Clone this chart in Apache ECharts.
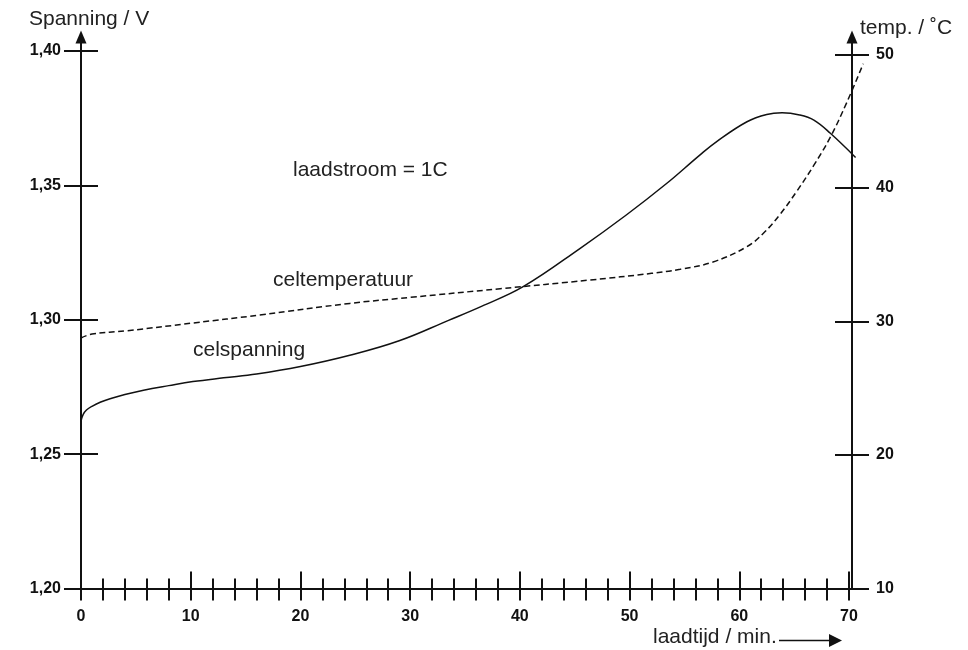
<!DOCTYPE html>
<html>
<head>
<meta charset="utf-8">
<script src="https://cdn.jsdelivr.net/npm/echarts@6/dist/echarts.min.js"></script>
<style>html,body{margin:0;padding:0;background:#fff}#c{width:968px;height:650px}</style>
</head>
<body>
<div id="c"></div>
<script>
// ---- data ----
const voltageTicks = [1.20, 1.25, 1.30, 1.35, 1.40];
const tempTicks = [10, 20, 30, 40, 50];
const timeTicks = [0, 10, 20, 30, 40, 50, 60, 70];
// celspanning: [minutes, volt]
const celspanning = [
  [0, 1.2623], [0.2, 1.2648], [0.5, 1.2664], [1, 1.2678], [1.8, 1.2694], [2.8, 1.2708],
  [4, 1.2722], [5.7, 1.2738], [8, 1.2755], [10.2, 1.2770], [13, 1.2784], [16, 1.2798],
  [20, 1.2826], [24.5, 1.2868], [29, 1.2922], [33.5, 1.2998], [36.5, 1.3050], [40.3, 1.3123],
  [45.5, 1.3266], [49.7, 1.3390], [53.4, 1.3508], [56.4, 1.3613], [58, 1.3665], [60.7, 1.3737],
  [62.5, 1.3764], [63.9, 1.3770], [65.5, 1.3762], [66.8, 1.3743], [68.3, 1.3694], [70.6, 1.3604]
];
// celtemperatuur: [minutes, degC]
const celtemperatuur = [
  [0, 28.76], [1, 29.05], [4.2, 29.3], [10.2, 29.88], [16.3, 30.48], [24.5, 31.35],
  [30, 31.8], [38.2, 32.45], [46.4, 33.1], [52, 33.6], [54.6, 33.9], [57.6, 34.45],
  [60.7, 35.6], [62.2, 36.6], [63.7, 38.0], [65.2, 39.7], [66.8, 41.7], [68.3, 43.8],
  [69.8, 46.4], [71.3, 49.3]
];

const FONT = '"Liberation Sans", Arial, Helvetica, sans-serif';
const INK = '#111';
const lineSty = { color: INK, width: 2 };
const V_MIN = 1.20, V_MAX = 1.403, T_MIN = 10, T_MAX = 50.85, X_MAX = 70, X_MAX_PLOT = 72;

function fmtV(v) { return v.toFixed(2).replace('.', ','); }

const chart = echarts.init(document.getElementById('c'), null, { renderer: 'canvas' });
// px per minute on the visible axis
const pxPerMin = (968 - 81 - 119) / X_MAX;

chart.setOption({
  animation: false,
  backgroundColor: '#fff',
  grid: [
    { left: 81, right: 119, top: 43, bottom: 61.5 },
    // plotting grid, same scale but wider so curves can run past 70 min
    { left: 81, right: 968 - 81 - pxPerMin * X_MAX_PLOT, top: 43, bottom: 61.5 }
  ],
  xAxis: [
    {
      gridIndex: 0, type: 'value', position: 'bottom', min: 0, max: X_MAX, interval: 10,
      axisLine: { show: true, onZero: false, lineStyle: lineSty },
      axisTick: { show: true, inside: false, length: 12, lineStyle: lineSty },
      minorTick: { show: true, splitNumber: 5, length: 12, lineStyle: lineSty },
      axisLabel: { show: true, margin: 20, color: INK, fontFamily: FONT, fontSize: 16, fontWeight: 'bold',
        customValues: timeTicks },
      splitLine: { show: false }, minorSplitLine: { show: false }
    },
    {
      gridIndex: 0, type: 'value', position: 'bottom', min: 0, max: X_MAX, interval: 10,
      axisLine: { show: false, onZero: false },
      axisTick: { show: true, inside: true, length: 17, lineStyle: lineSty },
      minorTick: { show: true, splitNumber: 5, length: 10, lineStyle: lineSty },
      axisLabel: { show: false }, splitLine: { show: false }
    },
    {
      gridIndex: 1, type: 'value', min: 0, max: X_MAX_PLOT, show: false
    }
  ],
  yAxis: [
    {
      gridIndex: 0, type: 'value', position: 'left', min: V_MIN, max: V_MAX,
      axisLine: { show: true, onZero: false, lineStyle: lineSty, symbol: ['none', 'triangle'], symbolSize: [11, 13], symbolOffset: [0, 6] },
      axisTick: { show: true, inside: false, length: 17, lineStyle: lineSty, customValues: voltageTicks },
      axisLabel: { show: true, margin: 20, color: INK, fontFamily: FONT, fontSize: 16, fontWeight: 'bold',
        customValues: voltageTicks, formatter: fmtV },
      splitLine: { show: false }
    },
    {
      gridIndex: 0, type: 'value', position: 'left', min: V_MIN, max: V_MAX,
      axisLine: { show: false, onZero: false },
      axisTick: { show: true, inside: true, length: 17, lineStyle: lineSty, customValues: voltageTicks },
      axisLabel: { show: false }, splitLine: { show: false }
    },
    {
      gridIndex: 0, type: 'value', position: 'right', offset: 3, min: T_MIN, max: T_MAX,
      axisLine: { show: true, onZero: false, lineStyle: lineSty, symbol: ['none', 'triangle'], symbolSize: [11, 13], symbolOffset: [0, 6] },
      axisTick: { show: true, inside: false, length: 17, lineStyle: lineSty, customValues: tempTicks },
      axisLabel: { show: true, margin: 24, color: INK, fontFamily: FONT, fontSize: 16, fontWeight: 'bold',
        customValues: tempTicks },
      splitLine: { show: false }
    },
    {
      gridIndex: 0, type: 'value', position: 'right', offset: 3, min: T_MIN, max: T_MAX,
      axisLine: { show: false, onZero: false },
      axisTick: { show: true, inside: true, length: 17, lineStyle: lineSty, customValues: tempTicks },
      axisLabel: { show: false }, splitLine: { show: false }
    },
    // hidden plotting axes
    { gridIndex: 1, type: 'value', position: 'left', min: V_MIN, max: V_MAX, show: false },
    { gridIndex: 1, type: 'value', position: 'right', min: T_MIN, max: T_MAX, show: false }
  ],
  series: [
    {
      name: 'celspanning', type: 'line', xAxisIndex: 2, yAxisIndex: 4,
      data: celspanning, smooth: 0.4, symbol: 'none', clip: false,
      lineStyle: { color: INK, width: 1.5, type: 'solid' }, z: 5
    },
    {
      name: 'celtemperatuur', type: 'line', xAxisIndex: 2, yAxisIndex: 5,
      data: celtemperatuur, smooth: 0.4, symbol: 'none', clip: false,
      lineStyle: { color: INK, width: 1.5, type: [6, 3.5] }, z: 5
    }
  ],
  graphic: [
    { type: 'text', x: 29, y: 19, style: { text: 'Spanning / V', font: '21px ' + FONT, fill: '#222', align: 'left', verticalAlign: 'middle' } },
    { type: 'text', x: 860, y: 28, style: { text: 'temp. / ˚C', font: '21px ' + FONT, fill: '#222', align: 'left', verticalAlign: 'middle' } },
    { type: 'text', x: 293, y: 170, style: { text: 'laadstroom = 1C', font: '21px ' + FONT, fill: '#222', align: 'left', verticalAlign: 'middle' } },
    { type: 'text', x: 273, y: 280, style: { text: 'celtemperatuur', font: '21px ' + FONT, fill: '#222', align: 'left', verticalAlign: 'middle' } },
    { type: 'text', x: 193, y: 350, style: { text: 'celspanning', font: '21px ' + FONT, fill: '#222', align: 'left', verticalAlign: 'middle' } },
    { type: 'text', x: 653, y: 637, style: { text: 'laadtijd / min.', font: '21px ' + FONT, fill: '#222', align: 'left', verticalAlign: 'middle' } },
    { type: 'line', shape: { x1: 779, y1: 640.5, x2: 832, y2: 640.5 }, style: { stroke: INK, lineWidth: 1.5 } },
    { type: 'polygon', shape: { points: [[829, 634], [842, 640.5], [829, 647]] }, style: { fill: INK } }
  ]
});
</script>
</body>
</html>
